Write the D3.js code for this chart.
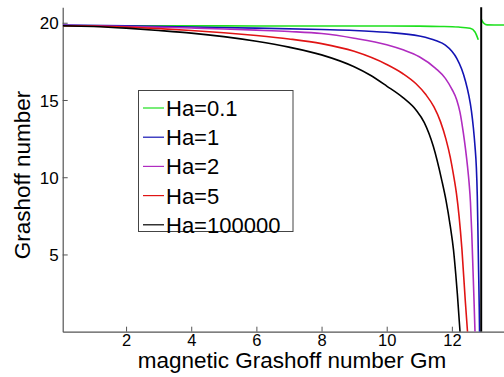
<!DOCTYPE html>
<html><head><meta charset="utf-8">
<script src="https://cdn.jsdelivr.net/npm/d3@7"></script>
<style>
html,body{margin:0;padding:0;background:#fff;}
text{font-family:"Liberation Sans",Arial,Helvetica,sans-serif;fill:#000;}
</style></head>
<body><svg id="c" width="504" height="377"></svg>
<script>
// ---- data ----
const seriesNames = ["Ha=0.1","Ha=1","Ha=2","Ha=5","Ha=100000"];
const seriesColors = ["#1ee01e","#1414b4","#b02cc0","#e01414","#000000"];
const xTicks = [2,4,6,8,10,12];
const yTicks = [5,10,15,20];

// Gm values and Grashoff values per series
const ha01Gm = [0.06,2,4,6,8,10,11,11.64,12.2,12.56,12.71,12.81,null,12.91,12.95,12.99,13.08,13.3,13.6];
const ha01Gr = [19.8,19.8,19.8,19.79,19.79,19.79,19.78,19.76,19.72,19.64,19.4,18.9,null,20.2,20.05,19.95,19.86,19.85,19.85];

const ha1Gm = [0.06,2,4,6,8,9,10,11,11.5,11.8,12.0,12.15,12.3,12.42,12.52,12.6,12.66,12.71,12.75,12.78,12.8,12.82,12.84,12.85];
const ha1Gr = [19.85,19.8,19.72,19.65,19.56,19.5,19.38,19.14,18.85,18.55,18.15,17.7,17.0,16.2,15.3,14.3,13.2,12.0,10.7,8.8,6.5,4.0,1.6,0];

const ha2Gm = [0.06,2,4,5,6,7,8,9,10,10.5,11,11.5,11.8,12.0,12.15,12.25,12.35,12.42,12.48,12.53,12.57,12.61,12.65,12.68,12.71];
const ha2Gr = [19.83,19.76,19.66,19.6,19.52,19.43,19.3,19.0,18.58,18.25,17.8,17.05,16.4,15.7,15.0,14.2,12.9,11.8,10.7,9.6,8.4,6.4,3.9,2.0,0];

const ha5Gm = [0.06,1,2,3,4,5,6,7,8,9,10,10.5,10.9,11.2,11.45,11.65,11.82,11.95,12.05,12.14,12.22,12.31,12.41,12.48];
const ha5Gr = [19.81,19.78,19.72,19.62,19.5,19.35,19.17,18.95,18.65,18.15,17.3,16.7,16.05,15.35,14.55,13.6,12.45,11.3,10.15,8.95,7.5,5.3,2.05,0];

const ha1e5Gm = [0.06,1,2,3,4,5,6,7,8,9,9.5,10,10.5,10.9,11.15,11.43,11.69,11.82,11.95,12.05,12.12,12.17,12.25];
const ha1e5Gr = [19.81,19.76,19.65,19.5,19.33,19.1,18.8,18.42,17.92,17.15,16.6,15.9,15.15,14.35,13.55,12.0,9.8,8.5,6.85,5.3,3.7,2.4,0];

const poleGm = [12.9,12.9];
const poleGr = [0,21];

const allGm = [ha01Gm,ha1Gm,ha2Gm,ha5Gm,ha1e5Gm];
const allGr = [ha01Gr,ha1Gr,ha2Gr,ha5Gr,ha1e5Gr];

// ---- layout ----
const svg = d3.select("#c");
const L = 62.7, R = 504, T = 7.3, B = 331.7;
const x = d3.scaleLinear().domain([0.055,13.6]).range([L,R]);
const y = d3.scaleLinear().domain([0,21]).range([B,T]);

svg.append("defs").append("clipPath").attr("id","clip")
  .append("rect").attr("x",L).attr("y",T-2).attr("width",R-L).attr("height",B-T+2);

// axes
const axColor = "#555";
const xAxis = svg.append("g").attr("transform",`translate(0,${B})`)
  .call(d3.axisBottom(x).tickValues(xTicks).tickSize(-5).tickPadding(10).tickSizeOuter(0));
const yAxis = svg.append("g").attr("transform",`translate(${L},0)`)
  .call(d3.axisLeft(y).tickValues(yTicks).tickSize(-5).tickPadding(8).tickSizeOuter(0));
[xAxis,yAxis].forEach(g=>{
  g.select(".domain").attr("stroke",axColor).attr("stroke-width",1.2);
  g.selectAll(".tick line").attr("stroke",axColor);
  g.selectAll(".tick text").attr("font-size",17).attr("font-family","Liberation Sans, Arial, sans-serif").attr("fill","#000");
});
yAxis.selectAll(".tick text").attr("x",-4).attr("dy","0.36em");
xAxis.selectAll(".tick text").attr("y",3).attr("dy","0.71em").attr("font-size",16.5);

// lines
const line = d3.line()
  .defined(d=>d[0]!==null && d[1]!==null)
  .x(d=>x(d[0])).y(d=>y(d[1]))
  .curve(d3.curveMonotoneX);
const plot = svg.append("g").attr("clip-path","url(#clip)");
allGm.forEach((gm,i)=>{
  const pts = gm.map((g,j)=>[g,allGr[i][j]]);
  plot.append("path").attr("d",line(pts)).attr("fill","none")
    .attr("stroke",seriesColors[i]).attr("stroke-width",1.6);
});
plot.append("path").attr("d",d3.line().x(d=>x(d[0])).y(d=>y(d[1]))(poleGm.map((g,j)=>[g,poleGr[j]])))
  .attr("fill","none").attr("stroke","#000").attr("stroke-width",2);

// axis titles
svg.append("text").attr("x",292).attr("y",368).attr("text-anchor","middle")
  .attr("font-size",22.5).text("magnetic Grashoff number Gm");
svg.append("text").attr("transform","translate(30,175) rotate(-90)").attr("text-anchor","middle")
  .attr("font-size",22.5).text("Grashoff number");

// legend
const lg = svg.append("g");
lg.append("rect").attr("x",138.5).attr("y",90.5).attr("width",154.5).attr("height",141)
  .attr("fill","#fff").attr("stroke","#444").attr("stroke-width",1);
seriesNames.forEach((n,i)=>{
  const cy = 108 + i*29.2;
  lg.append("line").attr("x1",143).attr("x2",164).attr("y1",cy).attr("y2",cy)
    .attr("stroke",seriesColors[i]).attr("stroke-width",1.2);
  lg.append("text").attr("x",166).attr("y",cy).attr("dy","0.36em")
    .attr("font-size",22).text(n);
});
</script></body></html>
